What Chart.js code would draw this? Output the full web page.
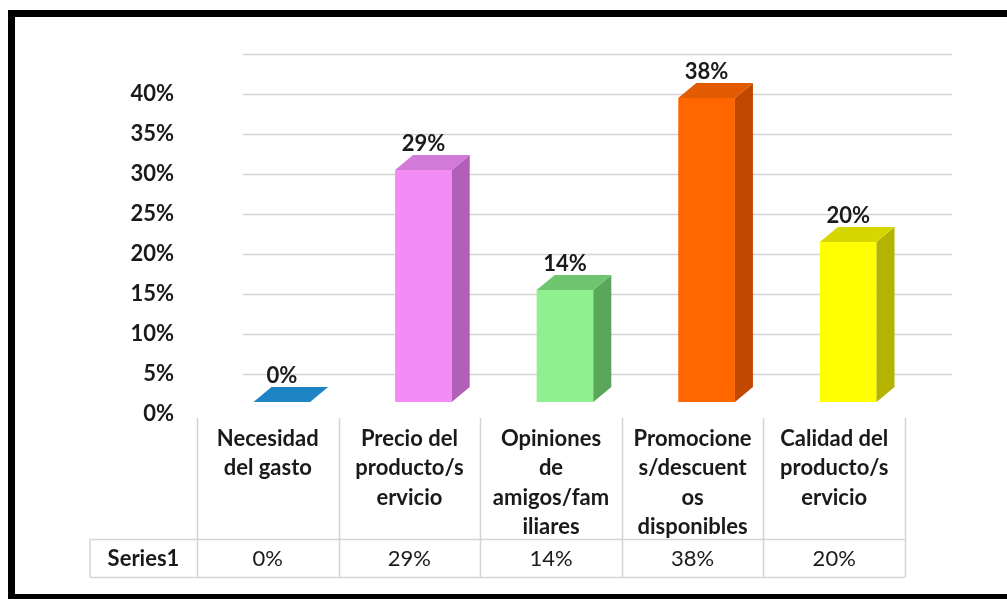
<!DOCTYPE html>
<html>
<head>
<meta charset="utf-8">
<script src="https://cdn.jsdelivr.net/npm/chart.js@4/dist/chart.umd.min.js"></script>
<style>
  html, body { margin: 0; padding: 0; background: #fff; }
  canvas { display: block; }
</style>
</head>
<body>
<canvas id="bar-chart" width="1007" height="599"></canvas>
<script>
var categories = [
    ['Necesidad', 'del gasto'],
    ['Precio del', 'producto/s', 'ervicio'],
    ['Opiniones', 'de', 'amigos/fam', 'iliares'],
    ['Promocione', 's/descuent', 'os', 'disponibles'],
    ['Calidad del', 'producto/s', 'ervicio']
];
var seriesName = 'Series1';
var values = [0, 29, 14, 38, 20];
var yTickLabels = ['0%', '5%', '10%', '15%', '20%', '25%', '30%', '35%', '40%', ''];

// front, side and top faces of each 3d column
var frontColors = ['#1f84c4', '#f58cf5', '#8ef08e', '#ff6600', '#ffff00'];
var sideColors = ['#176a9e', '#b15fb8', '#5aa65a', '#c04800', '#b3b300'];
var topColors = ['#1f84c4', '#d27ad8', '#6fc46f', '#e25b00', '#d6d600'];

var FONT = 'Lato, "Open Sans", sans-serif';
var TEXT = '#1a1a1a';
var LINE = '#d4d4d4';
var DX = 18, DY = -15;        // depth of the columns
var GRID_DX = 33, GRID_DY = 12; // back wall offset

var backWall = {
    id: 'backWall',
    beforeDatasetsDraw: function(chart) {
        var ctx = chart.ctx;
        var y = chart.scales.y;
        var area = chart.chartArea;
        ctx.save();
        ctx.strokeStyle = LINE;
        ctx.lineWidth = 1.5;
        for (var v = 5; v <= 45; v += 5) {
            var py = Math.round(y.getPixelForValue(v) + GRID_DY) + 0.5;
            ctx.beginPath();
            ctx.moveTo(area.left + GRID_DX - 1, py);
            ctx.lineTo(area.right + GRID_DX, py);
            ctx.stroke();
        }
        ctx.restore();
    }
};

function poly(ctx, pts, color) {
    ctx.fillStyle = color;
    ctx.beginPath();
    ctx.moveTo(pts[0][0], pts[0][1]);
    for (var i = 1; i < pts.length; i++) ctx.lineTo(pts[i][0], pts[i][1]);
    ctx.closePath();
    ctx.fill();
}

var columns3d = {
    id: 'columns3d',
    afterDatasetsDraw: function(chart) {
        var ctx = chart.ctx;
        var meta = chart.getDatasetMeta(0);
        ctx.save();
        meta.data.forEach(function(bar, i) {
            var p = bar.getProps(['x', 'y', 'base', 'width'], true);
            var l = p.x - p.width / 2, r = p.x + p.width / 2;
            poly(ctx, [[r, p.y], [r + DX, p.y + DY], [r + DX, p.base + DY], [r, p.base]], sideColors[i]);
            poly(ctx, [[l, p.y], [l + DX, p.y + DY], [r + DX, p.y + DY], [r, p.y]], topColors[i]);

            ctx.fillStyle = TEXT;
            ctx.font = 'bold 22px ' + FONT;
            ctx.textAlign = 'center';
            ctx.textBaseline = 'alphabetic';
            ctx.fillText(values[i] + '%', p.x, p.y + DY - 4);
        });
        ctx.restore();
    }
};

var dataTable = {
    id: 'dataTable',
    afterDraw: function(chart) {
        var ctx = chart.ctx;
        var area = chart.chartArea;
        var n = categories.length;
        var colW = area.width / n;
        var left = area.left - 14;
        var right = left + colW * n;
        var top = area.bottom + 16;
        var rowTop = top + 121;
        var rowBottom = rowTop + 38;
        var headLeft = left - 107;

        ctx.save();
        ctx.strokeStyle = LINE;
        ctx.lineWidth = 1.5;
        ctx.beginPath();
        for (var i = 0; i <= n; i++) {
            var x = Math.round(left + i * colW) + 0.5;
            ctx.moveTo(x, top);
            ctx.lineTo(x, rowBottom);
        }
        ctx.moveTo(headLeft, rowTop);
        ctx.lineTo(headLeft, rowBottom);
        ctx.moveTo(headLeft, rowTop + 0.5);
        ctx.lineTo(right, rowTop + 0.5);
        ctx.moveTo(headLeft, rowBottom + 0.5);
        ctx.lineTo(right, rowBottom + 0.5);
        ctx.stroke();

        ctx.fillStyle = TEXT;
        ctx.textAlign = 'center';
        ctx.textBaseline = 'middle';
        ctx.font = 'bold 22px ' + FONT;
        categories.forEach(function(lines, i) {
            var cx = left + (i + 0.5) * colW;
            lines.forEach(function(t, j) {
                ctx.fillText(t, cx, top + 21 + j * 29.3);
            });
        });
        ctx.fillText(seriesName, (headLeft + left) / 2, (rowTop + rowBottom) / 2 + 1);
        ctx.font = '22px ' + FONT;
        values.forEach(function(v, i) {
            ctx.fillText(v + '%', left + (i + 0.5) * colW, (rowTop + rowBottom) / 2 + 1);
        });
        ctx.restore();
    }
};

var frame = {
    id: 'frame',
    beforeDraw: function(chart) {
        var ctx = chart.ctx;
        ctx.save();
        ctx.fillStyle = '#fff';
        ctx.fillRect(0, 0, chart.width, chart.height);
        ctx.restore();
    },
    afterDraw: function(chart) {
        var ctx = chart.ctx;
        ctx.save();
        ctx.fillStyle = '#000';
        ctx.fillRect(8, 10, chart.width - 8, 7);
        ctx.fillRect(8, 10, 7, chart.height - 10);
        ctx.fillRect(8, chart.height - 5, chart.width - 8, 5);
        ctx.restore();
    }
};

var ctx = document.getElementById('bar-chart');
var barChart = new Chart(ctx, {
    type: 'bar',
    data: {
        labels: categories,
        datasets: [{
            label: seriesName,
            data: values,
            backgroundColor: frontColors,
            barPercentage: 0.40,
            categoryPercentage: 1
        }]
    },
    options: {
        responsive: false,
        animation: false,
        devicePixelRatio: 1,
        layout: {
            padding: { top: 42, right: 88, bottom: 197, left: 0 }
        },
        plugins: {
            legend: { display: false },
            tooltip: { enabled: false }
        },
        scales: {
            x: { display: false },
            y: {
                min: 0,
                max: 45,
                afterFit: function(scale) {
                    scale.width = 211;
                    // keep the tick padding from pushing the plot area down
                    scale.paddingTop = 0;
                    scale.paddingBottom = 0;
                },
                grid: { display: false, drawTicks: false },
                border: { display: false },
                ticks: {
                    stepSize: 5,
                    padding: 37,
                    labelOffset: 12,
                    color: TEXT,
                    font: { family: FONT, size: 22, weight: 'bold' },
                    callback: function(v) { return yTickLabels[Math.round(v / 5)]; }
                }
            }
        }
    },
    plugins: [frame, backWall, columns3d, dataTable]
});
</script>
</body>
</html>
